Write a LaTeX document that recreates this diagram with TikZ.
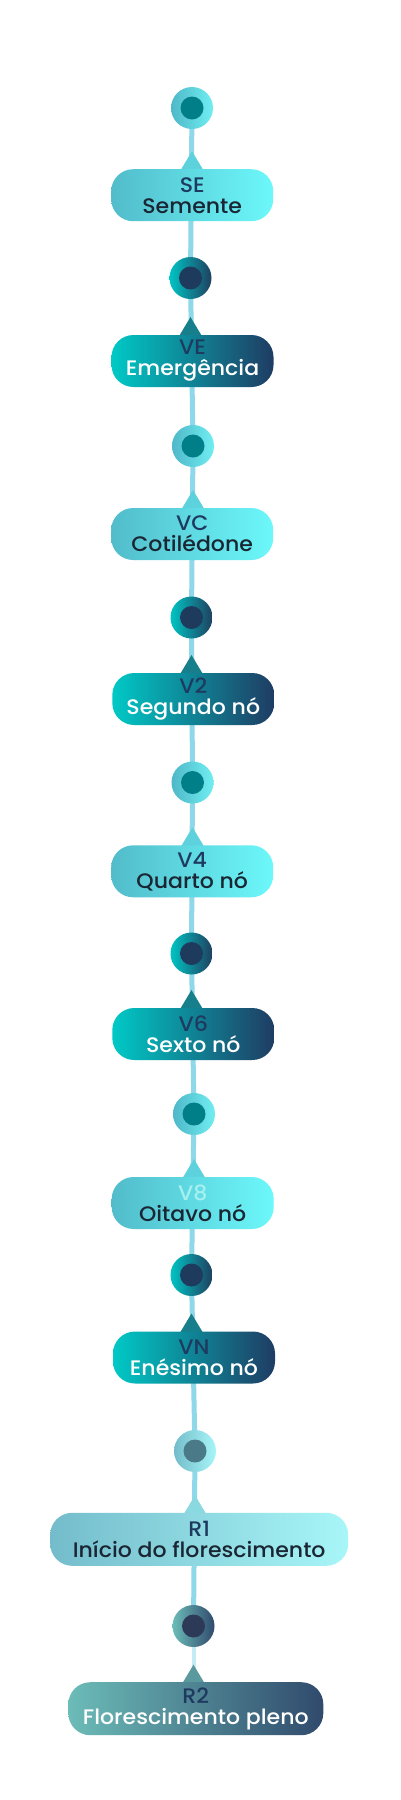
\documentclass[tikz,border=0pt]{standalone}
\usepackage{fontspec}
\setmainfont{Poppins}[UprightFont=* Medium,FakeStretch=1.05]
\usetikzlibrary{calc}
\pgfdeclarelayer{bgl}
\pgfdeclarelayer{linel}
\pgfsetlayers{bgl,linel,main}
\definecolor{lnc}{HTML}{8ED8EA}
\definecolor{lnf}{HTML}{C4ECF4}
\definecolor{navy}{HTML}{1E3A5F}
\definecolor{dk}{HTML}{1A2633}
\definecolor{faint}{HTML}{A8F0F0}
\definecolor{lbL}{HTML}{52BCCB}
\definecolor{lbR}{HTML}{6CF8FA}
\definecolor{dbL}{HTML}{00C9C6}
\definecolor{dbR}{HTML}{1F3C63}
\definecolor{lcL}{HTML}{4FB8C8}
\definecolor{lcR}{HTML}{70EEF2}
\definecolor{lcI}{HTML}{007F88}
\definecolor{dcL}{HTML}{00C4C4}
\definecolor{dcR}{HTML}{1F4060}
\definecolor{dcI}{HTML}{1E3A5C}
\definecolor{rAbL}{HTML}{74BCCB}
\definecolor{rAbR}{HTML}{A8F6F8}
\definecolor{rAcI}{HTML}{4A7A88}
\definecolor{rBbL}{HTML}{6CBCB8}
\definecolor{rBbR}{HTML}{304A6C}
\definecolor{rBcI}{HTML}{2C3A58}
\definecolor{triL}{HTML}{5ED2DC}
\definecolor{triD}{HTML}{177E8C}
\definecolor{triA}{HTML}{8AD8E0}
\definecolor{triB}{HTML}{5A9A9F}
\begin{document}
\begin{tikzpicture}[x=1pt,y=-1pt,
  ln/.style={draw=lnc,line width=5pt},
  box/.style={rounded corners=22pt,minimum width=162pt,minimum height=52pt,
    inner sep=0pt,align=center,font=\fontsize{21}{21}\selectfont},
  lbox/.style={box,left color=lbL,right color=lbR,text=dk},
  dbox/.style={box,left color=dbL,right color=dbR,text=white},
  ring/.style={circle,minimum size=42pt,inner sep=0pt},
  lring/.style={ring,left color=lcL,right color=lcR},
  dring/.style={ring,left color=dcL,right color=dcR},
  core/.style={circle,minimum size=23pt,inner sep=0pt}
]
\begin{pgfonlayer}{bgl}
\fill[white] (0,0) rectangle (400,1800);
\end{pgfonlayer}
\useasboundingbox (0,0) rectangle (400,1800);

% circles
\node[lring] (c1) at (192,108) {};
\node[dring] (c2) at (190.5,278) {};
\node[lring] (c3) at (193,446) {};
\node[dring] (c4) at (191.5,617.5) {};
\node[lring] (c5) at (192.5,782.5) {};
\node[dring] (c6) at (191.5,953.5) {};
\node[lring] (c7) at (194,1114) {};
\node[dring] (c8) at (191.5,1275) {};
\node[ring,left color=rAbL,right color=rAbR] (c9) at (195,1451) {};
\node[ring,left color=rBbL,right color=rBbR] (c10) at (193.5,1626) {};
\foreach \i/\col in {1/lcI,3/lcI,5/lcI,7/lcI,2/dcI,4/dcI,6/dcI,8/dcI,9/rAcI,10/rBcI}
  \node[core,fill=\col] (k\i) at (c\i.center) {};

% boxes (positions)
\coordinate (p1) at (192.2,195.2);
\coordinate (p2) at (192.5,361);
\coordinate (p3) at (192.2,534);
\coordinate (p4) at (193.3,699);
\coordinate (p5) at (192.2,871.3);
\coordinate (p6) at (193.3,1034);
\coordinate (p7) at (192.7,1203);
\coordinate (p8) at (194,1357.5);
\coordinate (p9) at (199.2,1539.3);
\coordinate (p10) at (195.8,1708.7);

% triangles
\foreach \i/\col in {1/triL,3/triL,5/triL,7/triL,2/triD,4/triD,6/triD,8/triD,9/triA,10/triB}
  \fill[\col] ($(c\i.center |- p\i)+(-12,-24)$) -- ($(c\i.center |- p\i)+(0,-44)$) -- ($(c\i.center |- p\i)+(12,-24)$) -- cycle;

\node[lbox] (b1) at (p1) {\textcolor{navy}{SE}\\Semente};
\node[dbox] (b2) at (p2) {\textcolor{navy}{VE}\\Emergência};
\node[lbox] (b3) at (p3) {\textcolor{navy}{VC}\\Cotilédone};
\node[dbox] (b4) at (p4) {\textcolor{navy}{V2}\\Segundo nó};
\node[lbox] (b5) at (p5) {\textcolor{navy}{V4}\\Quarto nó};
\node[dbox] (b6) at (p6) {\textcolor{navy}{V6}\\Sexto nó};
\node[lbox] (b7) at (p7) {\textcolor{faint}{V8}\\Oitavo nó};
\node[dbox] (b8) at (p8) {\textcolor{navy}{VN}\\Enésimo nó};
\node[box,minimum width=298pt,minimum height=53pt,left color=rAbL,right color=rAbR,text=dk] (b9) at (p9) {\textcolor{navy}{R1}\\Início do florescimento};
\node[box,minimum width=255pt,minimum height=53pt,left color=rBbL,right color=rBbR,text=white] (b10) at (p10) {\textcolor{navy}{R2}\\Florescimento pleno};

% connector line
\begin{pgfonlayer}{linel}
\draw[ln] (c1.center) -- (c2.center) -- (c3.center) -- (c4.center) -- (c5.center)
  -- (c6.center) -- (c7.center) -- (c8.center) -- (c9.center) -- (c10.center);
\draw[draw=lnf,line width=4pt] (c10.center) -- (c10.center |- b10.north);
\end{pgfonlayer}
\end{tikzpicture}
\end{document}
